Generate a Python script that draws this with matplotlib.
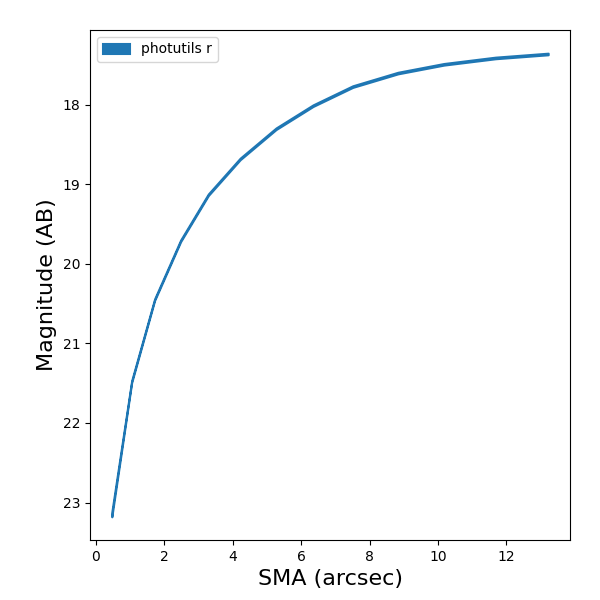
import numpy as np
import matplotlib
matplotlib.use('Agg')
import matplotlib.pyplot as plt

# curve of growth
sma = [0.47, 1.05, 1.72, 2.48, 3.29, 4.22, 5.27, 6.35, 7.51, 8.83, 10.17, 11.68, 13.22]
mag = [23.15, 21.48, 20.45, 19.71, 19.13, 18.68, 18.30, 18.01, 17.77, 17.60, 17.49, 17.41, 17.36]
mag_err = [0.03, 0.012, 0.01, 0.01, 0.01, 0.01, 0.01, 0.01, 0.01, 0.01, 0.01, 0.01, 0.01]

sma = np.array(sma)
mag = np.array(mag)
mag_err = np.array(mag_err)

fig = plt.figure(figsize=(6, 6))
ax = fig.add_axes([0.15, 0.1, 0.8, 0.85])
ax.fill_between(sma, mag - mag_err, mag + mag_err, color='C0',
                linewidth=1.5, label='photutils r')
ax.invert_yaxis()
ax.set_xlabel('SMA (arcsec)', fontsize=16)
ax.set_ylabel('Magnitude (AB)', fontsize=16)
ax.legend(loc='upper left')
fig.savefig('out.png', dpi=100)
